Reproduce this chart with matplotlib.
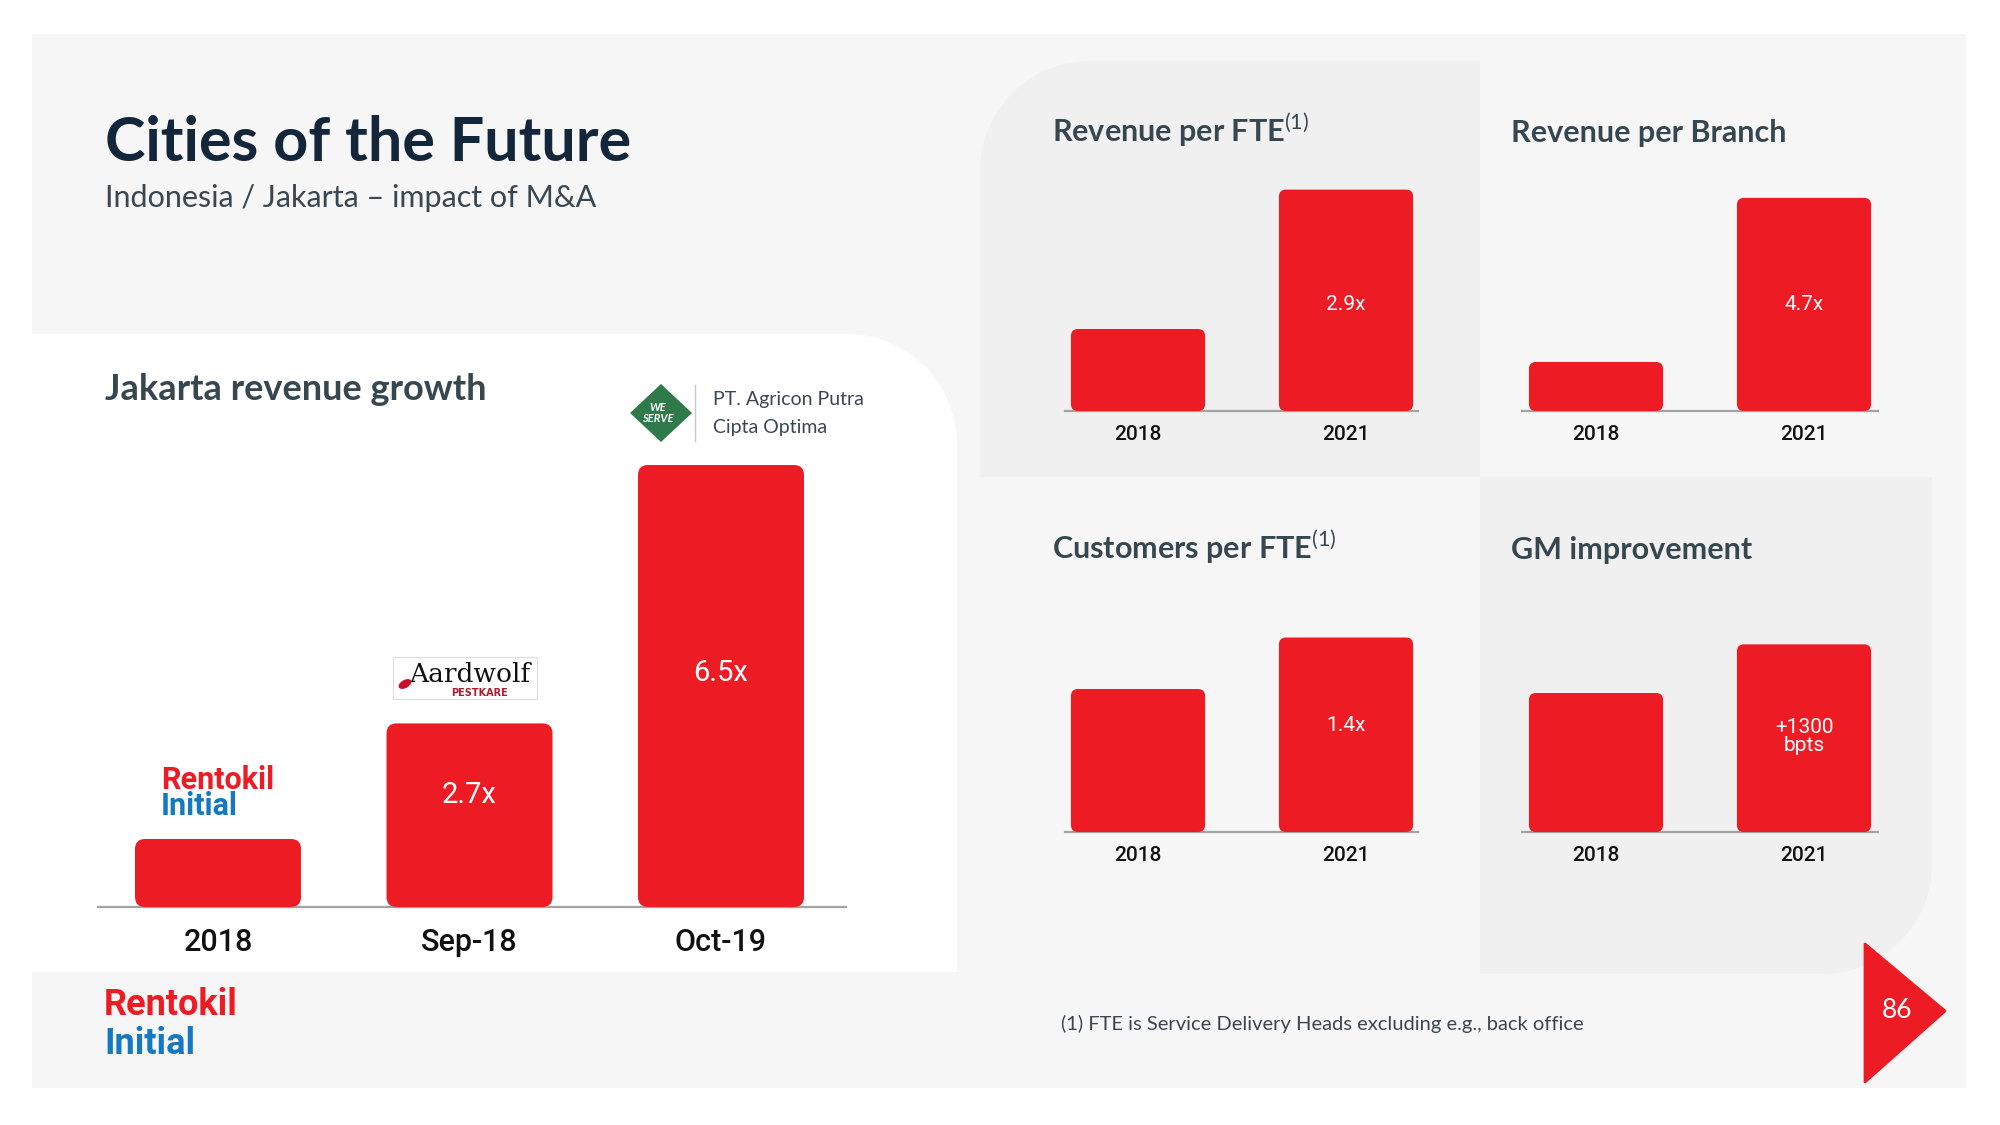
import numpy as np
import matplotlib
matplotlib.use("Agg")
import matplotlib.pyplot as plt
from matplotlib.patches import FancyBboxPatch, Polygon, Rectangle, Ellipse

# Datos del gráfico principal (crecimiento de ingresos en Yakarta, 2018 = 1)
left_cats = ["2018", "Sep-18", "Oct-19"]
left_vals = [1.0, 2.7, 6.5]
left_labels = ["", "2.7x", "6.5x"]

# Datos de los cuatro paneles pequeños (2018 = 1, alturas)
small_cats = ["2018", "2021"]
rev_fte_vals = [1.0, 2.7]
rev_fte_labels = ["", "2.9x"]
rev_branch_vals = [1.0, 4.35]
rev_branch_labels = ["", "4.7x"]
cust_fte_vals = [1.0, 1.36]
cust_fte_labels = ["", "1.4x"]
gm_vals = [1.0, 1.35]
gm_labels = ["", "+1300\nbpts"]

RED = "#ed1c24"
BLUE = "#1479c0"
NAVY = "#14263a"
SLATE = "#37474f"
W, H = 2000, 1125

plt.rcParams["font.family"] = ["Lato", "DejaVu Sans"]
plt.rcParams["mathtext.fontset"] = "custom"
plt.rcParams["mathtext.rm"] = "Lato"

fig = plt.figure(figsize=(20, 11.25), dpi=100)
fig.patch.set_facecolor("white")

# Eje de fondo en coordenadas de pixel (y hacia abajo)
bg = fig.add_axes([0, 0, 1, 1])
bg.set_xlim(0, W)
bg.set_ylim(H, 0)
bg.axis("off")


def panel(x0, y0, x1, y1, r, corner, color):
    # rectangulo con una sola esquina redondeada
    t = np.linspace(0, np.pi / 2, 30)
    if corner == "tr":
        arc = np.c_[x1 - r + r * np.sin(t), y0 + r - r * np.cos(t)]
        pts = [(x0, y1), (x0, y0)] + list(arc) + [(x1, y1)]
    elif corner == "tl":
        arc = np.c_[x0 + r - r * np.cos(t), y0 + r - r * np.sin(t)]
        pts = [(x0, y1)] + list(arc) + [(x1, y0), (x1, y1)]
    else:  # br
        arc = np.c_[x1 - r + r * np.cos(t), y1 - r + r * np.sin(t)]
        pts = [(x0, y0), (x1, y0)] + list(arc) + [(x0, y1)]
    bg.add_patch(Polygon(pts, closed=True, fc=color, ec="none", zorder=1))


bg.add_patch(Rectangle((32, 34), 1934, 1054, fc="#f6f6f6", ec="none", zorder=0))
panel(32, 334, 957, 972, 110, "tr", "white")
panel(980, 61, 1480, 477, 110, "tl", "#f0f0f0")
panel(1480, 477, 1932, 974, 110, "br", "#f0f0f0")

# Titulos
bg.text(105, 161, "Cities of the Future", fontsize=44, fontweight="bold", color=NAVY, zorder=5)
bg.text(105, 207, "Indonesia / Jakarta \u2013 impact of M&A", fontsize=22, color="#3a4750", zorder=5)
bg.text(105, 400, "Jakarta revenue growth", fontsize=26, fontweight="bold", color=SLATE, zorder=5)

bg.text(1052, 142, "Revenue per FTE$^{(1)}$", fontsize=22, fontweight="bold", color=SLATE, zorder=5)
bg.text(1511, 142, "Revenue per Branch", fontsize=22, fontweight="bold", color=SLATE, zorder=5)
bg.text(1052, 559, "Customers per FTE$^{(1)}$", fontsize=22, fontweight="bold", color=SLATE, zorder=5)
bg.text(1511, 559, "GM improvement", fontsize=22, fontweight="bold", color=SLATE, zorder=5)

bg.text(1061, 1024, "(1) FTE is Service Delivery Heads excluding e.g., back office",
        fontsize=14.5, color="#3a4750", va="center", zorder=5)

# Numero de pagina
bg.add_patch(Polygon([(1865, 944), (1945, 1011), (1865, 1082)], closed=True,
                     fc=RED, ec=RED, lw=2, joinstyle="round", zorder=5))
bg.text(1897, 1011, "86", fontsize=19, color="white", ha="center", va="center", zorder=6)

# Logo Rentokil Initial (abajo a la izquierda y sobre la barra 2018)
bg.text(104, 1005, "Rentokil", family="Roboto", fontweight="bold", fontsize=26, color=RED,
        va="center", zorder=5)
bg.text(104, 1044, "Initial", family="Roboto", fontweight="bold", fontsize=26, color=BLUE,
        va="center", zorder=5)
bg.text(161, 780, "Rentokil", family="Roboto", fontweight="bold", fontsize=22, color=RED,
        va="center", zorder=5)
bg.text(161, 806, "Initial", family="Roboto", fontweight="bold", fontsize=22, color=BLUE,
        va="center", zorder=5)

# Logo Aardwolf
bg.add_patch(Rectangle((393, 657), 144, 42, fc="white", ec="#dddddd", lw=0.8, zorder=5))
bg.text(470, 675, "Aardwolf", family="DejaVu Serif", fontsize=19, color="#111111",
        ha="center", va="center", zorder=6)
bg.text(480, 693, "PESTKARE", family="DejaVu Sans", fontweight="bold", fontsize=7,
        color="#b01c2e", ha="center", va="center", zorder=6)
bg.add_patch(Ellipse((405, 684), 14, 8, angle=-30, fc="#c8102e", ec="none", zorder=6))

# Logo WE SERVE
bg.add_patch(Polygon([(661, 384), (692, 413), (661, 442), (630, 413)], closed=True,
                     fc="#2f7a4b", ec="none", zorder=5))
bg.text(658, 413, "WE\nSERVE", fontsize=8, fontweight="bold", style="italic", color="white",
        ha="center", va="center", linespacing=0.9, zorder=6)
bg.plot([695, 695], [385, 441], color="#c8c8c8", lw=1, zorder=5)
bg.text(713, 400, "PT. Agricon Putra", fontsize=14, color="#3a4750", va="center", zorder=5)
bg.text(713, 428, "Cipta Optima", fontsize=14, color="#3a4750", va="center", zorder=5)


def bar_chart(x0, x1, base, top, c0, step, px_unit, bw, cats, vals, labels, lab_frac,
              cat_size, val_size, cat_pad, r_px):
    ax = fig.add_axes([x0 / W, (H - base) / H, (x1 - x0) / W, (base - top) / H])
    ax.set_xlim((x0 - c0) / step, (x1 - c0) / step)
    ax.set_ylim(0, (base - top) / px_unit)
    ax.patch.set_visible(False)
    for s in ["top", "right", "left"]:
        ax.spines[s].set_visible(False)
    ax.spines["bottom"].set_color("#a3a3a3")
    ax.spines["bottom"].set_linewidth(1.6)
    ax.spines["bottom"].set_zorder(1)
    ax.set_yticks([])
    x = np.arange(len(vals))
    bars = ax.bar(x, vals, width=bw, color=RED)
    aspect = step / px_unit
    for b in bars:
        b.set_visible(False)
        ax.add_patch(FancyBboxPatch((b.get_x(), 0), b.get_width(), b.get_height(),
                                    boxstyle="round,pad=0,rounding_size=%f" % (r_px / step),
                                    mutation_aspect=aspect, fc=RED, ec="none", zorder=3))
    for i, (v, lab, f) in enumerate(zip(vals, labels, lab_frac)):
        if lab:
            ax.text(i, v * f, lab, ha="center", va="center", color="white", fontsize=val_size,
                    family="Roboto", linespacing=0.9, zorder=4)
    ax.set_xticks(x)
    ax.set_xticklabels(cats, family="Roboto", fontweight="medium", fontsize=cat_size,
                       color="#111111")
    ax.tick_params(axis="x", length=0, pad=cat_pad)
    return ax


bar_chart(98, 846, 907, 430, 218, 251.5, 68, 0.66, left_cats, left_vals, left_labels,
          [1, 0.61, 0.53], 22, 21, 15, 10)
bar_chart(1065, 1418, 411, 160, 1138, 208, 82, 0.645, small_cats, rev_fte_vals, rev_fte_labels,
          [1, 0.48], 15, 15, 10, 7)
bar_chart(1522, 1878, 411, 160, 1596, 208, 49, 0.645, small_cats, rev_branch_vals, rev_branch_labels,
          [1, 0.5], 15, 15, 10, 7)
bar_chart(1065, 1418, 832, 590, 1138, 208, 143, 0.645, small_cats, cust_fte_vals, cust_fte_labels,
          [1, 0.55], 15, 15, 10, 7)
bar_chart(1522, 1878, 832, 590, 1596, 208, 139, 0.645, small_cats, gm_vals, gm_labels,
          [1, 0.51], 15, 15, 10, 7)

fig.savefig("out.png", dpi=100, facecolor="white")
